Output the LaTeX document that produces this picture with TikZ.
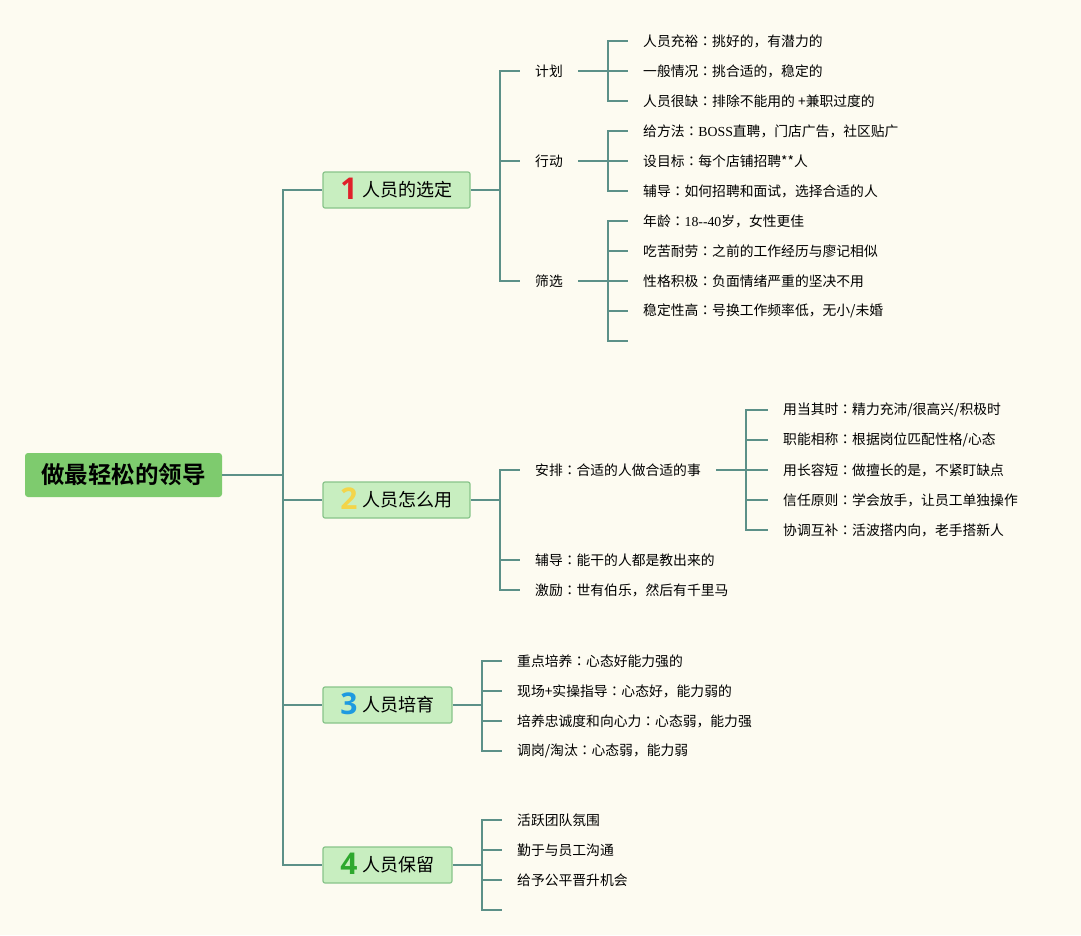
\documentclass[tikz,border=0pt]{standalone}
\usepackage{fontspec}
\usepackage{tikz}
\usetikzlibrary{calc}
\setmainfont{Noto Sans CJK SC}[BoldFont={Noto Sans CJK SC Bold}]
\newfontfamily\latinfont{Liberation Serif}
\newfontfamily\colonfont{Noto Sans CJK TC}
\newfontfamily\numfont{Open Sans}[BoldFont={Open Sans Bold}]
\definecolor{bgcol}{HTML}{FDFBF1}
\definecolor{edgecol}{HTML}{5C9088}
\definecolor{rootfill}{HTML}{7ECB6E}
\definecolor{boxfill}{HTML}{C8EEC0}
\definecolor{boxdraw}{HTML}{88C48A}
\definecolor{numred}{HTML}{E0202A}
\definecolor{numyellow}{HTML}{F3D54A}
\definecolor{numblue}{HTML}{1E9AE0}
\definecolor{numgreen}{HTML}{2EA82E}
\newcommand{\boxnum}[2]{\smash{\raisebox{-3pt}{\numfont\bfseries\fontsize{30}{30}\selectfont\color{#1}#2}}\hspace{5pt}}
\newcommand{\cln}{{\colonfont ：}}

\begin{document}
\begin{tikzpicture}[x=1pt, y=-1pt,
        root_style/.style={rectangle,rounded corners=3pt,fill=rootfill,minimum width=197pt,minimum height=44pt,inner sep=0pt,font=\fontsize{23.5}{26}\selectfont\bfseries},
        box_style/.style={rectangle,rounded corners=2pt,draw=boxdraw,line width=1.2pt,fill=boxfill,minimum height=36pt,inner sep=0pt,font=\fontsize{18}{20}\selectfont},
        leaf_style/.style={anchor=west,inner xsep=15pt,inner ysep=0pt,font=\fontsize{13.8}{16}\selectfont},
        edge_style/.style={draw=edgecol, line width=2pt}]

        \fill [bgcol] (0,0) rectangle (1081,935);
        \useasboundingbox (0,0) rectangle (1081,935);

        \node [root_style](root) at (123.5,475) {做最轻松的领导};

        \node [box_style,minimum width=147pt](b1) at (396.5,190) {\boxnum{numred}{1}人员的选定};
        \node [box_style,minimum width=147pt](b2) at (396.5,500) {\boxnum{numyellow}{2}人员怎么用};
        \node [box_style,minimum width=129pt](b3) at (387.5,705) {\boxnum{numblue}{3}人员培育};
        \node [box_style,minimum width=129pt](b4) at (387.5,865) {\boxnum{numgreen}{4}人员保留};

        \coordinate (j0) at (283,475);
        \coordinate (j1) at (500,190);
        \coordinate (j2) at (500,500);
        \coordinate (j3) at (482,705);
        \coordinate (j4) at (482,865);

        % 1 人员的选定
        \node [leaf_style](s1) at (520,71) {计划};
        \node [leaf_style](s2) at (520,161) {行动};
        \node [leaf_style](s3) at (520,281) {筛选};

        \node [leaf_style](l11) at (628,41) {人员充裕\cln 挑好的，有潜力的};
        \node [leaf_style](l12) at (628,71) {一般情况\cln 挑合适的，稳定的};
        \node [leaf_style](l13) at (628,101) {人员很缺\cln 排除不能用的 +兼职过度的};
        \node [leaf_style](l21) at (628,131) {给方法\cln {\latinfont BOSS}直聘，门店广告，社区贴广};
        \node [leaf_style](l22) at (628,161) {设目标\cln 每个店铺招聘**人};
        \node [leaf_style](l23) at (628,191) {辅导\cln 如何招聘和面试，选择合适的人};
        \node [leaf_style](l31) at (628,221) {年龄\cln {\latinfont 18-{}-40}岁，女性更佳};
        \node [leaf_style](l32) at (628,251) {吃苦耐劳\cln 之前的工作经历与廖记相似};
        \node [leaf_style](l33) at (628,281) {性格积极\cln 负面情绪严重的坚决不用};
        \node [leaf_style](l34) at (628,311) {稳定性高\cln 号换工作频率低，无小/未婚};
        \coordinate (e1) at (628,341);

        % 2 人员怎么用
        \node [leaf_style](s4) at (520,470) {安排\cln 合适的人做合适的事};
        \node [leaf_style](s5) at (520,560) {辅导\cln 能干的人都是教出来的};
        \node [leaf_style](s6) at (520,590) {激励\cln 世有伯乐，然后有千里马};

        \node [leaf_style](l41) at (768,410) {用当其时\cln 精力充沛/很高兴/积极时};
        \node [leaf_style](l42) at (768,440) {职能相称\cln 根据岗位匹配性格/心态};
        \node [leaf_style](l43) at (768,470) {用长容短\cln 做擅长的是，不紧盯缺点};
        \node [leaf_style](l44) at (768,500) {信任原则\cln 学会放手，让员工单独操作};
        \node [leaf_style](l45) at (768,530) {协调互补\cln 活波搭内向，老手搭新人};

        % 3 人员培育
        \node [leaf_style](l51) at (502,661) {重点培养\cln 心态好能力强的};
        \node [leaf_style](l52) at (502,691) {现场+实操指导\cln 心态好，能力弱的};
        \node [leaf_style](l53) at (502,721) {培养忠诚度和向心力\cln 心态弱，能力强};
        \node [leaf_style](l54) at (502,751) {调岗/淘汰\cln 心态弱，能力弱};

        % 4 人员保留
        \node [leaf_style](l61) at (502,820) {活跃团队氛围};
        \node [leaf_style](l62) at (502,850) {勤于与员工沟通};
        \node [leaf_style](l63) at (502,880) {给予公平晋升机会};
        \coordinate (e2) at (502,910);

        \coordinate (j11) at ($(s1.east)+(30,0)$);
        \coordinate (j12) at ($(s2.east)+(30,0)$);
        \coordinate (j13) at ($(s3.east)+(30,0)$);
        \coordinate (j41) at ($(s4.east)+(30,0)$);

        \draw [edge_style] (root.east) -- (j0);
        \foreach \b in {b1,b2,b3,b4}
            \draw [edge_style] (j0) |- (\b.west);

        \draw [edge_style] (b1.east) -- (j1);
        \foreach \s in {s1,s2,s3}
            \draw [edge_style] (j1) |- (\s.west);
        \draw [edge_style] (s1.east) -- (j11);
        \foreach \l in {l11,l12,l13}
            \draw [edge_style] (j11) |- (\l.west);
        \draw [edge_style] (s2.east) -- (j12);
        \foreach \l in {l21,l22,l23}
            \draw [edge_style] (j12) |- (\l.west);
        \draw [edge_style] (s3.east) -- (j13);
        \foreach \l in {l31,l32,l33,l34}
            \draw [edge_style] (j13) |- (\l.west);
        \draw [edge_style] (j13) |- (e1);

        \draw [edge_style] (b2.east) -- (j2);
        \foreach \s in {s4,s5,s6}
            \draw [edge_style] (j2) |- (\s.west);
        \draw [edge_style] (s4.east) -- (j41);
        \foreach \l in {l41,l42,l43,l44,l45}
            \draw [edge_style] (j41) |- (\l.west);

        \draw [edge_style] (b3.east) -- (j3);
        \foreach \l in {l51,l52,l53,l54}
            \draw [edge_style] (j3) |- (\l.west);

        \draw [edge_style] (b4.east) -- (j4);
        \foreach \l in {l61,l62,l63}
            \draw [edge_style] (j4) |- (\l.west);
        \draw [edge_style] (j4) |- (e2);

        \end{tikzpicture}
\end{document}
